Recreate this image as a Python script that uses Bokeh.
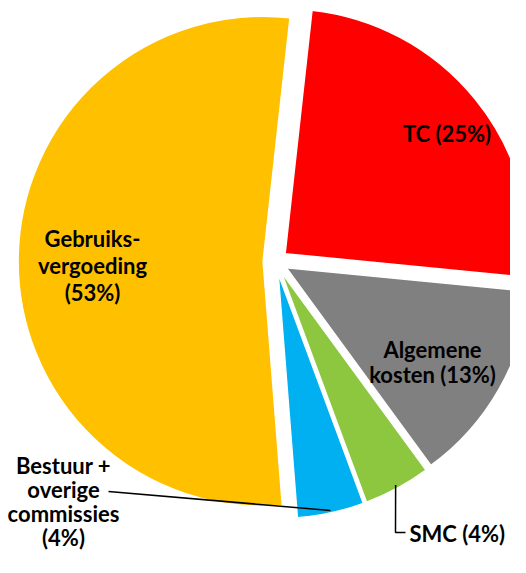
import numpy as np
from bokeh.plotting import figure
from bokeh.models import Range1d, ColumnDataSource
from bokeh.core.properties import value
from bokeh.embed import file_html
from bokeh.resources import INLINE

# ---- data ----
categories = ["TC", "Algemene kosten", "SMC", "Bestuur + overige commissies", "Gebruiksvergoeding"]
shares = [24.8, 13.4, 4.4, 4.4, 53.0]
colors = ["#FF0000", "#808080", "#8DC63F", "#00B0F0", "#FFC000"]
label_templates = [
    ["TC ({p}%)"],
    ["Algemene", "kosten ({p}%)"],
    ["SMC ({p}%)"],
    ["Bestuur +", "overige", "commissies", "({p}%)"],
    ["Gebruiks-", "vergoeding", "({p}%)"],
]

# ---- layout (picture pixel coords, y measured downward from top) ----
W, H = 510, 557
PAGE_H = 573
CX, CY = 275.0, 261.0      # pie centre
R = 245.0                   # radius
EXPLODE = 12.4              # explosion distance
START_DEG = 83.7            # first slice starts here, goes clockwise

# label anchors: (x, first baseline y, line spacing, align)
label_pos = [
    (446.5, 133, 27, "center"),
    (432, 349, 25, "center"),
    (409, 533, 27, "left"),
    (63, 465, 24, "center"),
    (92, 238, 27, "center"),
]

def fy(y):
    return PAGE_H - y

p = figure(width=W, height=H, output_backend="svg", toolbar_location=None,
           x_range=Range1d(0, W), y_range=Range1d(PAGE_H - H, PAGE_H),
           x_axis_type=None, y_axis_type=None, min_border=0)
p.grid.visible = False
p.outline_line_color = None
p.background_fill_color = "white"
p.border_fill_color = "white"

vals = np.array(shares, dtype=float)
frac = vals / vals.sum()
cum = np.concatenate([[0], np.cumsum(frac)])
a0 = np.radians(START_DEG)
ends = a0 - cum[:-1] * 2 * np.pi
starts = a0 - cum[1:] * 2 * np.pi
mids = (starts + ends) / 2
xs = CX + EXPLODE * np.cos(mids)
ys = fy(CY) + EXPLODE * np.sin(mids)

src = ColumnDataSource(dict(x=xs, y=ys, start=starts, end=ends, color=colors, cat=categories))
p.wedge(x="x", y="y", radius=R, start_angle="start", end_angle="end",
        fill_color="color", line_color="white", line_width=1.5, source=src)

# leader lines
# Bestuur (index 3)
i = 3
sx = xs[i] + 0.99 * R * np.cos(mids[i]); sy = ys[i] + 0.99 * R * np.sin(mids[i])
p.line([sx, 108], [sy, fy(491)], line_color="black", line_width=1.5)
# SMC (index 2)
i = 2
sx = xs[i] + 0.985 * R * np.cos(mids[i]); sy = ys[i] + 0.985 * R * np.sin(mids[i])
p.line([sx, 395, 405], [sy, fy(532), fy(532)], line_color="black", line_width=1.5)

# labels
for tmpl, share, (lx, ly, lsp, al) in zip(label_templates, shares, label_pos):
    pct = int(round(share))
    lines = [t.format(p=pct) for t in tmpl]
    tx = [lx] * len(lines)
    ty = [fy(ly + k * lsp) for k in range(len(lines))]
    p.text(x=tx, y=ty, text=lines, text_font=value("Lato"), text_font_style="bold",
           text_font_size="22px", text_color="black", text_align=al,
           text_baseline="alphabetic")

open("out.html", "w").write(file_html(p, INLINE))
